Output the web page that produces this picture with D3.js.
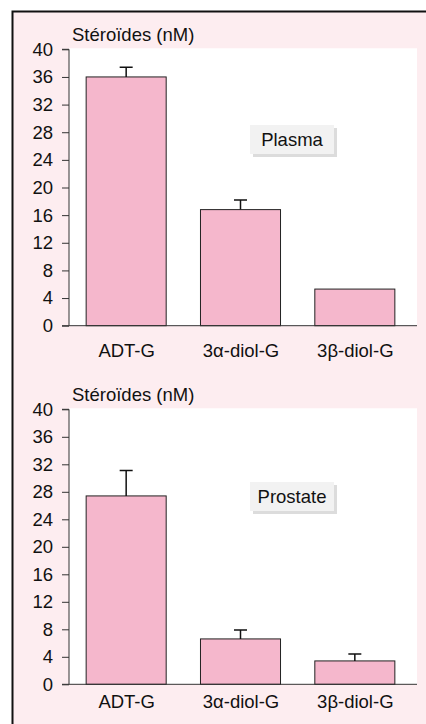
<!DOCTYPE html>
<meta charset="utf-8">
<style>
body{margin:0;background:#fff;}
svg text{font-family:"Liberation Sans",Arial,sans-serif;fill:#111;}
</style>
<svg id="chart" width="426" height="724"></svg>
<script src="https://d3js.org/d3.v7.min.js"></script>
<script>
// categories and values
const categories = ['ADT-G', '3\u03b1-diol-G', '3\u03b2-diol-G']
const plasmaValues = [36, 16.8, 5.3]
const plasmaErrors = [1.4, 1.4, 0]
const prostateValues = [27.4, 6.6, 3.4]
const prostateErrors = [3.7, 1.3, 1.0]
const yTicks = [0, 4, 8, 12, 16, 20, 24, 28, 32, 36, 40]
const yTitle = 'Stéroïdes (nM)'

const FONT = 18.5
const svg = d3.select('#chart')

// pink frame, only left and top edges drawn
svg.append('rect').attr('x', 12).attr('y', 11).attr('width', 414).attr('height', 713).attr('fill', '#fdedf0')
svg.append('path').attr('d', 'M12.5,724V11.5H426').attr('fill', 'none').attr('stroke', '#111').attr('stroke-width', 2)

function panel(top, bottom, values, errors, label, box, catGap) {
  const y = d3.scaleLinear().domain([0, 40]).range([bottom, top])
  const x = d3.scaleBand().domain(categories).range([69, 412])
      .paddingInner(0.3).paddingOuter(0.15)

  let g = svg.append('g')

  // white plot area
  g.append('rect').attr('x', 69).attr('y', top - 1).attr('width', 348).attr('height', bottom - top + 1).attr('fill', '#fff')

  // y title
  g.append('text').attr('x', 72).attr('y', top - 8).style('font-size', FONT + 'px').text(yTitle)

  // bars
  g.selectAll('rect.bar').data(values).enter().append('rect').attr('class', 'bar')
    .attr('x', (d, i) => x(categories[i]))
    .attr('y', d => y(d))
    .attr('width', x.bandwidth())
    .attr('height', d => y(0) - y(d))
    .attr('fill', '#f5b7cc').attr('stroke', '#222').attr('stroke-width', 1)

  // error bars (upper only)
  errors.forEach((e, i) => {
    if (!e) return
    const cx = x(categories[i]) + x.bandwidth() / 2
    g.append('path')
      .attr('d', `M${cx},${y(values[i])}V${y(values[i] + e)}M${cx - 6.5},${y(values[i] + e)}H${cx + 6.5}`)
      .attr('stroke', '#111').attr('stroke-width', 1.5).attr('fill', 'none')
  })

  // axes
  let yAxis = g.append('g').attr('transform', 'translate(69,0)')
    .call(d3.axisLeft(y).tickValues(yTicks).tickSize(7).tickPadding(9))
  yAxis.selectAll('text').style('font-size', FONT + 'px').attr('fill', '#111')
  yAxis.selectAll('line,path').attr('stroke', '#333')
  yAxis.select('.domain').attr('d', `M-7,${top}H0V${bottom}`)

  g.append('line').attr('x1', 62).attr('x2', 417).attr('y1', bottom).attr('y2', bottom).attr('stroke', '#333')

  g.selectAll('text.cat').data(categories).enter().append('text').attr('class', 'cat')
    .attr('x', d => x(d) + x.bandwidth() / 2 + 0.5)
    .attr('y', bottom + catGap)
    .attr('text-anchor', 'middle').style('font-size', FONT + 'px')
    .text(d => d)

  // label box with shadow
  g.append('rect').attr('x', box[0] + 3).attr('y', box[1] + 3).attr('width', box[2]).attr('height', box[3]).attr('fill', '#dcdcdc')
  g.append('rect').attr('x', box[0]).attr('y', box[1]).attr('width', box[2]).attr('height', box[3]).attr('fill', '#f2f2f2')
  g.append('text').attr('x', box[0] + box[2] / 2).attr('y', box[1] + box[3] / 2 + 6.5)
    .attr('text-anchor', 'middle').style('font-size', FONT + 'px').text(label)
}

panel(49.3, 325.7, plasmaValues, plasmaErrors, 'Plasma', [250, 125, 84, 29], 31)
panel(409.3, 684.3, prostateValues, prostateErrors, 'Prostate', [250, 482, 84, 29], 24)
</script>
